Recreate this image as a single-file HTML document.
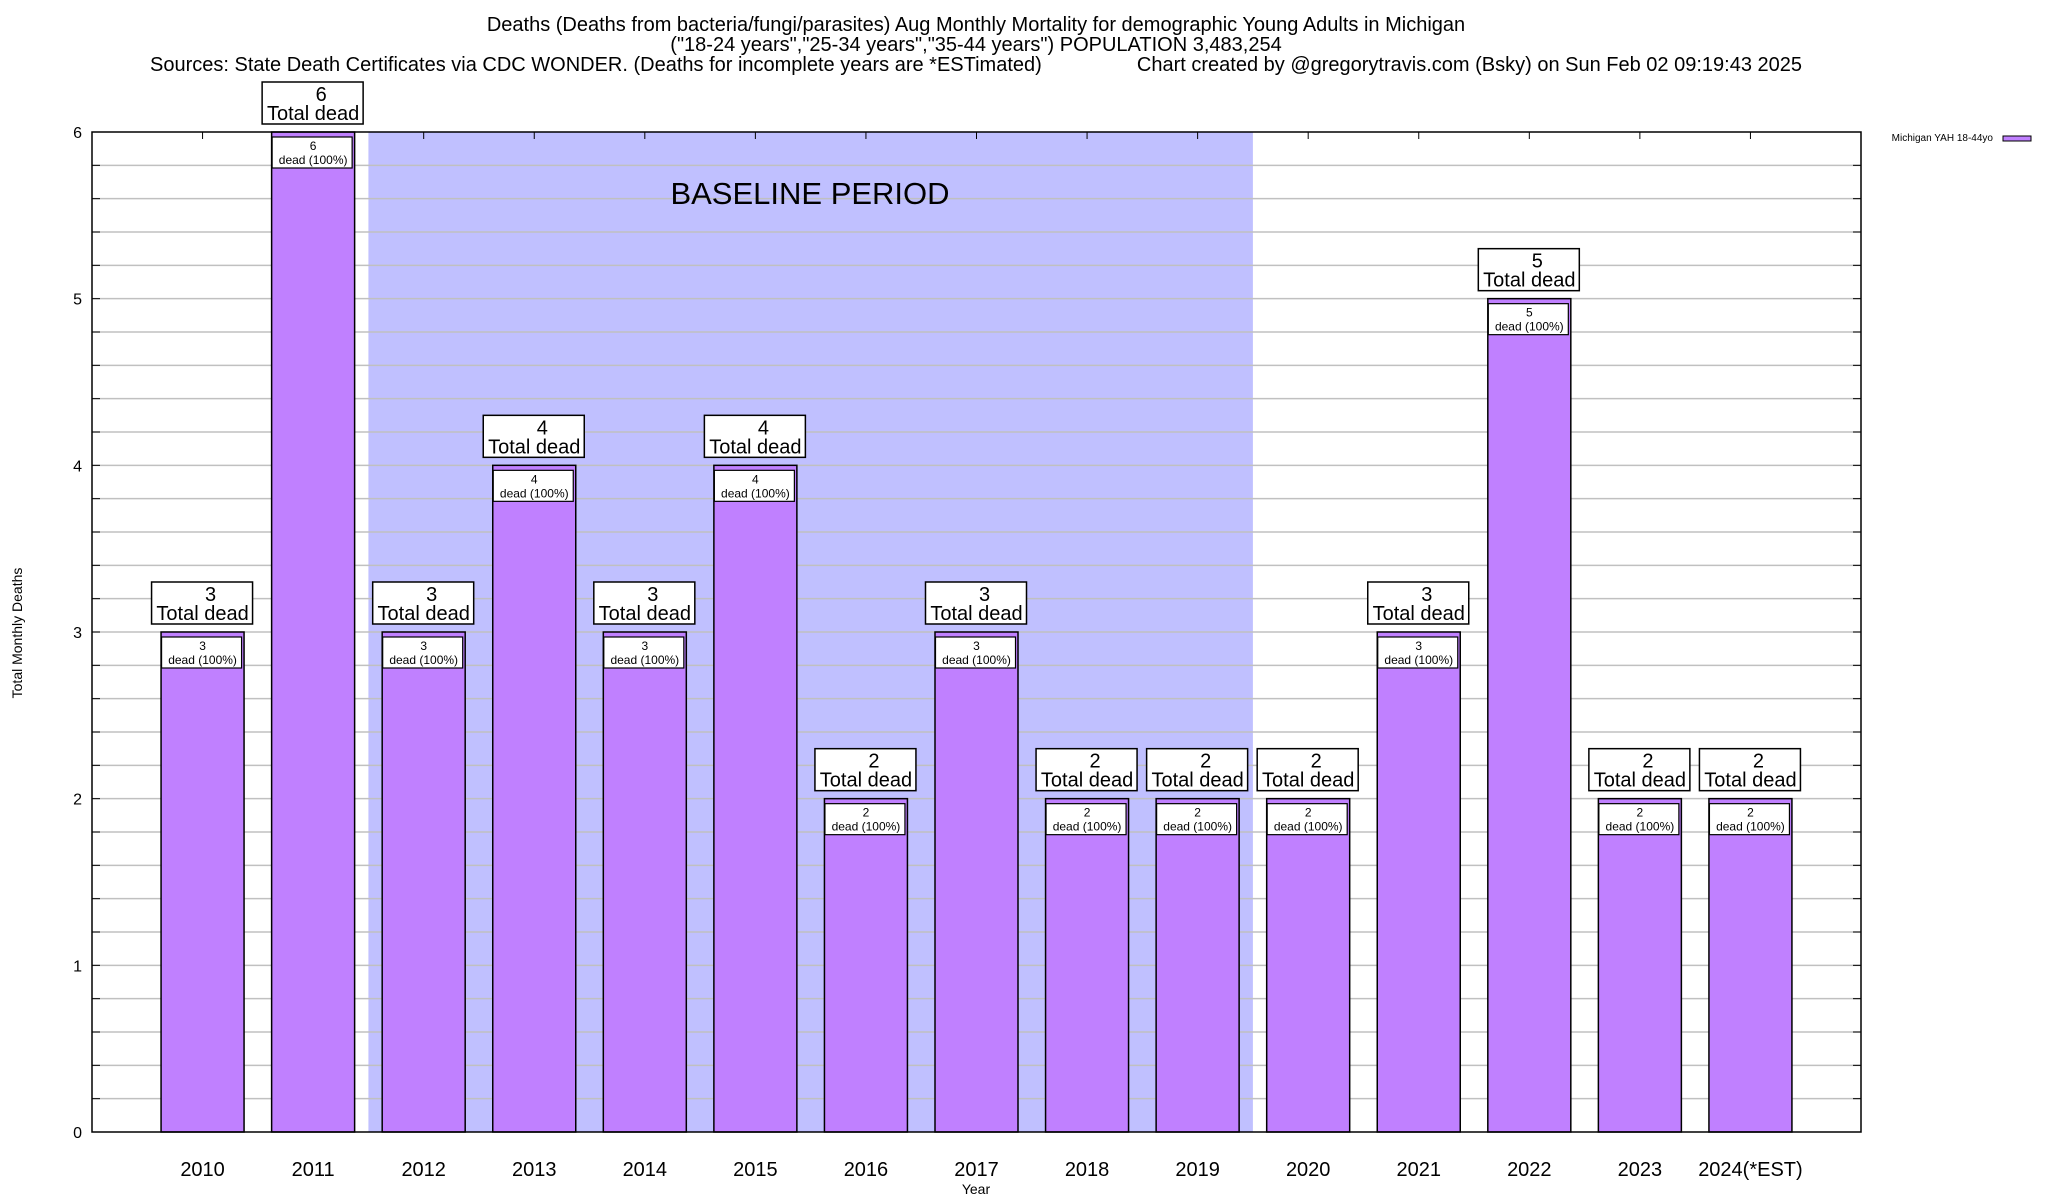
<!DOCTYPE html>
<html><head><meta charset="utf-8">
<style>
body{margin:0;background:#fff;}
svg{display:block;font-family:"Liberation Sans",Arial,sans-serif;}
</style></head>
<body>
<svg id="chart" width="2048" height="1200" viewBox="0 0 2048 1200">
<text x="976" y="31" font-size="20" text-anchor="middle">Deaths (Deaths from bacteria/fungi/parasites) Aug Monthly Mortality for demographic Young Adults in Michigan</text>
<text x="976" y="51" font-size="20" text-anchor="middle">("18-24 years","25-34 years","35-44 years") POPULATION 3,483,254</text>
<text x="150" y="71" font-size="20">Sources: State Death Certificates via CDC WONDER. (Deaths for incomplete years are *ESTimated)</text>
<text x="1802" y="71" font-size="20" text-anchor="end">Chart created by @gregorytravis.com (Bsky) on Sun Feb 02 09:19:43 2025</text>
<g id="plot"></g>
<text x="22" y="633" font-size="14" text-anchor="middle" transform="rotate(-90 22 633)">Total Monthly Deaths</text>
<text x="976" y="1194" font-size="14" text-anchor="middle">Year</text>
<g>
<text x="1993" y="141" font-size="10" text-anchor="end">Michigan YAH 18-44yo</text>
<rect x="2003" y="136" width="28" height="5" fill="#c080ff" stroke="#000" stroke-width="1"/>
</g>
</svg>
<script>
const categories=["2010","2011","2012","2013","2014","2015","2016","2017","2018","2019","2020","2021","2022","2023","2024(*EST)"];
const deaths=[3,6,3,4,3,4,2,3,2,2,2,3,5,2,2];
const yTicks=[0,1,2,3,4,5,6];
const baselineStart=2012, baselineEnd=2019;

const NS="http://www.w3.org/2000/svg";
const g=document.getElementById('plot');
const L=92,R=1861,T=132,B=1132,yMax=6;
const step=(R-L)/(categories.length+1);
const xC=i=>L+(i+1)*step;
const y=v=>B-(v/yMax)*(B-T);
function mk(tag,attrs,parent){const e=document.createElementNS(NS,tag);for(const k in attrs)e.setAttribute(k,attrs[k]);(parent||g).appendChild(e);return e;}

const bi0=categories.indexOf(String(baselineStart)), bi1=categories.indexOf(String(baselineEnd));
const shade=mk('rect',{x:xC(bi0)-step/2,y:T,width:(bi1-bi0+1)*step,height:B-T,fill:'#c0c0ff'});


for(let k=1;k<yMax*5;k++){const v=k/5;const ln=mk('line',{x1:L,x2:R,y1:y(v),y2:y(v),stroke:'#c0c0c0','stroke-width':1.5});


mk('line',{x1:L,x2:L+8,y1:y(v),y2:y(v),stroke:'#000'});mk('line',{x1:R,x2:R-8,y1:y(v),y2:y(v),stroke:'#000'});}
const bt=mk('text',{x:810,y:204,'font-size':31,'text-anchor':'middle'});bt.textContent='BASELINE PERIOD';


yTicks.forEach(v=>{const t=mk('text',{x:82,y:y(v)+6,'font-size':16,'text-anchor':'end'});t.textContent=v;

});
const bw=83;
categories.forEach((c,i)=>{
 const cx=xC(i),top=y(deaths[i]);
 mk('line',{x1:cx,x2:cx,y1:T,y2:T+7,stroke:'#000'});
 const r=mk('rect',{x:cx-bw/2,y:top,width:bw,height:B-top,fill:'#c080ff',stroke:'#000','stroke-width':1.5});
 
 
 const ib=mk('rect',{x:cx-bw/2+0.5,y:top+5,width:bw-3,height:31,fill:'#fff',stroke:'#000','stroke-width':1.2});
 
 
 const t1=mk('text',{x:cx,y:top+18,'font-size':12,'text-anchor':'middle'});t1.textContent=deaths[i];
 
 
 const t2=mk('text',{x:cx,y:top+32,'font-size':12,'text-anchor':'middle'});t2.textContent='dead (100%)';
 
 
 const ob=mk('rect',{x:cx-51,y:top-50,width:101,height:42,fill:'#fff',stroke:'#000','stroke-width':1.5});
 
 
 const o1=mk('text',{x:cx+8,y:top-31,'font-size':20,'text-anchor':'middle'});o1.textContent=deaths[i];
 
 
 const o2=mk('text',{x:cx,y:top-12,'font-size':20,'text-anchor':'middle'});o2.textContent='Total dead';
 
 
 const xl=mk('text',{x:cx,y:1176,'font-size':20,'text-anchor':'middle'});xl.textContent=c;
 
 
});
const fr=mk('rect',{x:L,y:T,width:R-L,height:B-T,fill:'none',stroke:'#000','stroke-width':1.5});


</script>
</body></html>
